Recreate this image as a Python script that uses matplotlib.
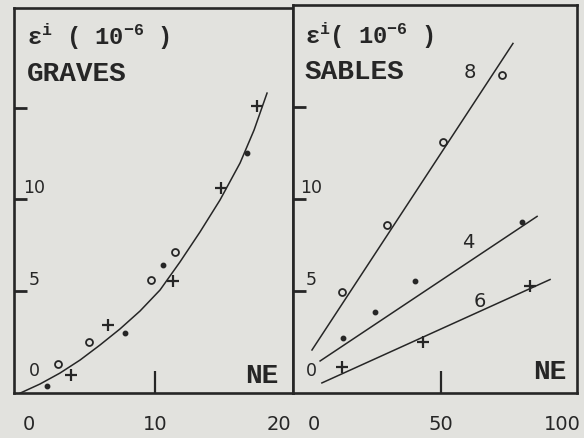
import matplotlib
matplotlib.use("Agg")
import matplotlib.pyplot as plt
from matplotlib.transforms import blended_transform_factory, offset_copy

# ---------------- data ----------------
# GRAVES (left panel): NE vs epsilon_i (1e-6)
graves_circle_x = [2.3, 4.8, 9.7, 11.6]
graves_circle_y = [1.0, 2.2, 5.6, 7.1]
graves_dot_x = [1.4, 7.6, 10.6, 17.3]
graves_dot_y = [-0.2, 2.7, 6.4, 12.5]
graves_plus_x = [3.3, 6.3, 11.4, 15.2, 18.1]
graves_plus_y = [0.4, 3.1, 5.5, 10.6, 15.1]
graves_fit_x = [-0.87, 0.87, 2.46, 4.05, 5.63, 7.22, 8.81, 10.40, 11.98,
                13.57, 15.16, 16.75, 17.86, 18.89]
graves_fit_y = [-0.66, -0.11, 0.49, 1.20, 2.02, 2.90, 3.88, 5.03, 6.56,
                8.20, 9.95, 11.97, 13.77, 15.79]

# SABLES (right panel), three water contents
sables_8_x = [11.0, 28.7, 50.8, 74.0]
sables_8_y = [4.9, 8.6, 13.1, 16.8]
sables_8_line_x = [-0.8, 78.3]
sables_8_line_y = [1.75, 18.5]

sables_4_x = [11.4, 24.0, 39.8, 81.9]
sables_4_y = [2.4, 3.8, 5.5, 8.75]
sables_4_line_x = [2.4, 87.8]
sables_4_line_y = [1.15, 9.05]

sables_6_x = [11.0, 42.9, 85.0]
sables_6_y = [0.8, 2.2, 5.25]
sables_6_line_x = [3.1, 92.9]
sables_6_line_y = [-0.05, 5.6]

curve_labels = [("8", 61.4, 16.9), ("4", 60.6, 7.65), ("6", 65.4, 4.4)]

left_xticks = [0, 10, 20]
right_xticks = [0, 50, 100]
ytick_marks = [5, 10, 15]
ytick_labels = [0, 5, 10]

# ---------------- style ----------------
paper = "#e2e2de"
ink = "#262626"
plt.rcParams["mathtext.fontset"] = "custom"
plt.rcParams["mathtext.rm"] = "Liberation Mono:bold"
plt.rcParams["mathtext.it"] = "Liberation Mono:bold"
title_font = dict(family="Liberation Mono", weight="bold", size=20, color=ink)
head_font = dict(family="Liberation Mono", weight="bold", size=17, color=ink)
num_font = dict(family="DejaVu Sans", color=ink)

fig = plt.figure(figsize=(5.84, 4.38), dpi=100, facecolor=paper)
ax_l = fig.add_axes([14 / 584, 1 - 393 / 438, 279 / 584, 385 / 438])
ax_r = fig.add_axes([293 / 584, 1 - 393 / 438, 284 / 584, 388 / 438])

ax_l.set_xlim(-1.19, 20.95)
ax_l.set_ylim(-0.6, 20.44)
ax_r.set_xlim(-8.27, 103.5)
ax_r.set_ylim(-0.6, 20.6)


def frame(ax, xticks, inner_xtick, label_x, last_shift):
    ax.set_facecolor(paper)
    for s in ax.spines.values():
        s.set_linewidth(1.9)
        s.set_color(ink)
    ax.set_xticks([])
    ax.set_xticks([inner_xtick], minor=True)
    ax.tick_params(axis="x", which="minor", direction="in", length=16,
                   width=1.6, color=ink, labelbottom=False)
    # bottom scale numbers, written below the frame
    xb = blended_transform_factory(ax.transData, ax.transAxes)
    for i, t in enumerate(xticks):
        dx = last_shift if i == len(xticks) - 1 else 0
        tr = offset_copy(xb, fig=fig, x=dx, y=-32, units="dots")
        ax.text(t, 0, str(t), transform=tr, ha="center", va="center",
                fontsize=14, clip_on=False, **num_font)
    ax.set_yticks([])
    ax.set_yticks(ytick_marks, minor=True)
    ax.tick_params(axis="y", which="minor", direction="in", length=9,
                   width=2, color=ink, labelleft=False)
    trans = offset_copy(blended_transform_factory(ax.transAxes, ax.transData),
                        fig=fig, x=0, y=11, units="dots")
    for v in ytick_labels:
        ax.text(label_x, v, str(v), transform=trans, ha="center", va="center",
                fontsize=12.5, **num_font)


frame(ax_l, left_xticks, 10, 0.073, -2)
frame(ax_r, right_xticks, 50, 0.064, -6)

# ---- left panel: GRAVES ----
ax_l.plot(graves_fit_x, graves_fit_y, color=ink, lw=1.1)
ax_l.plot(graves_circle_x, graves_circle_y, "o", ms=5, mfc="none", mec=ink, mew=1.3)
ax_l.plot(graves_dot_x, graves_dot_y, "o", ms=3.2, color=ink)
ax_l.plot(graves_plus_x, graves_plus_y, "+", ms=9, mew=1.6, color=ink)

ax_l.text(0.047, 0.925, r"ε$^{\mathrm{i}}$ ( 10$^{\mathrm{-6}}$ )",
          transform=ax_l.transAxes, ha="left", va="center", **head_font)
ax_l.text(0.047, 0.829, "GRAVES", transform=ax_l.transAxes,
          ha="left", va="center", **title_font)
ax_l.text(0.889, 0.044, "NE", transform=ax_l.transAxes,
          ha="center", va="center", **title_font)

# ---- right panel: SABLES ----
ax_r.plot(sables_8_line_x, sables_8_line_y, color=ink, lw=1.1)
ax_r.plot(sables_4_line_x, sables_4_line_y, color=ink, lw=1.1)
ax_r.plot(sables_6_line_x, sables_6_line_y, color=ink, lw=1.1)
ax_r.plot(sables_8_x, sables_8_y, "o", ms=5, mfc="none", mec=ink, mew=1.3)
ax_r.plot(sables_4_x, sables_4_y, "o", ms=3.2, color=ink)
ax_r.plot(sables_6_x, sables_6_y, "+", ms=9, mew=1.6, color=ink)
for txt, x, y in curve_labels:
    ax_r.text(x, y, txt, ha="center", va="center", fontsize=14, **num_font)

ax_r.text(0.042, 0.92, r"ε$^{\mathrm{i}}$( 10$^{\mathrm{-6}}$ )",
          transform=ax_r.transAxes, ha="left", va="center", **head_font)
ax_r.text(0.042, 0.827, "SABLES", transform=ax_r.transAxes,
          ha="left", va="center", **title_font)
ax_r.text(0.905, 0.054, "NE", transform=ax_r.transAxes,
          ha="center", va="center", **title_font)

fig.savefig("out.png", dpi=100, facecolor=paper)
